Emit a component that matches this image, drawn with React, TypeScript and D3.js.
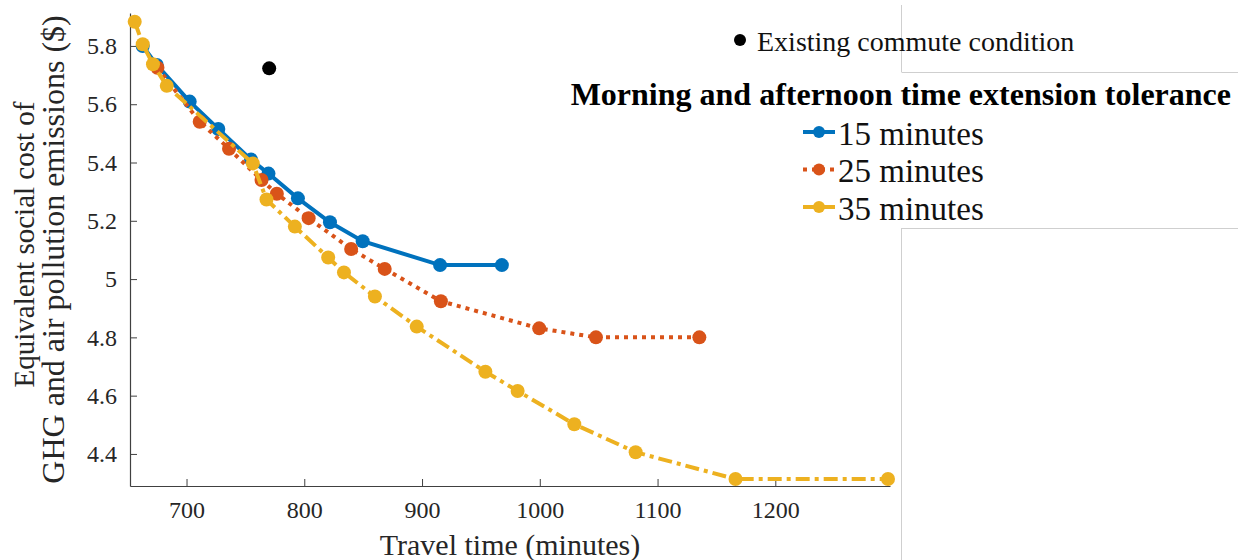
import React, { useEffect, useRef } from 'react';
import * as d3 from 'd3';

// travel time (minutes) / social cost ($)
const time15 = [662.8, 674.7, 702.7, 727, 754.8, 769.6, 794.6, 821.8, 849.6, 915.3, 967.8];
const cost15 = [5.8, 5.735, 5.609, 5.515, 5.41, 5.362, 5.277, 5.195, 5.13, 5.048, 5.048];

const time25 = [675.3, 711.2, 736.1, 763.7, 776.7, 803.7, 839.8, 868.3, 916, 999.5, 1047.7, 1135.5];
const cost25 = [5.725, 5.54, 5.447, 5.34, 5.293, 5.209, 5.103, 5.035, 4.924, 4.831, 4.8, 4.8];

const time35 = [656, 662.8, 671.5, 683.2, 756.3, 767.9, 792, 820.3, 833.7, 860, 895.5, 953.8, 981.2, 1029.3, 1081.4, 1166.2, 1295.7];
const cost35 = [5.883, 5.806, 5.737, 5.663, 5.397, 5.273, 5.18, 5.074, 5.023, 4.94, 4.837, 4.682, 4.616, 4.502, 4.406, 4.314, 4.314];

const existingTime = 770.2;
const existingCost = 5.723;

const seriesNames = ['15 minutes', '25 minutes', '35 minutes'];
const xTicks = [700, 800, 900, 1000, 1100, 1200];
const yTicks = [4.4, 4.6, 4.8, 5, 5.2, 5.4, 5.6, 5.8];

const FONT = "'Liberation Serif', 'Times New Roman', serif";

const App = () => {
    const svgRef = useRef<SVGSVGElement>(null);

    useEffect(() => {
        const svg = d3.select(svgRef.current);
        svg.selectAll('*').remove();

        const left = 130, right = 890, top = 13, bottom = 486;

        const x = d3.scaleLinear().domain([652, 1297.4]).range([left, right]);
        const y = d3.scaleLinear().domain([4.29, 5.913]).range([bottom, top]);

        const series = [
            { name: seriesNames[0], t: time15, c: cost15, color: '#0072BD', dash: null },
            { name: seriesNames[1], t: time25, c: cost25, color: '#D95319', dash: '4,5' },
            { name: seriesNames[2], t: time35, c: cost35, color: '#EDB120', dash: '14,5,4,5' },
        ];

        // stray legend box edges from the original figure
        const frame = svg.append('g').style('stroke', '#cfcfcf').style('stroke-width', 1);
        frame.append('line').attr('x1', 901.5).attr('x2', 901.5).attr('y1', 5).attr('y2', 72);
        frame.append('line').attr('x1', 901.5).attr('x2', 1238).attr('y1', 72.5).attr('y2', 72.5);
        frame.append('line').attr('x1', 901.5).attr('x2', 1238).attr('y1', 228.5).attr('y2', 228.5);
        frame.append('line').attr('x1', 901.5).attr('x2', 901.5).attr('y1', 228).attr('y2', 560);

        // axes (left + bottom, ticks inward)
        const axisColor = '#404040';
        const xAxis = svg.append('g')
            .attr('transform', `translate(0, ${bottom})`)
            .call(d3.axisBottom(x).tickValues(xTicks).tickSize(-7).tickPadding(15).tickSizeOuter(0)
                .tickFormat(d3.format('d')));
        const yAxis = svg.append('g')
            .attr('transform', `translate(${left}, 0)`)
            .call(d3.axisLeft(y).tickValues(yTicks).tickSize(-7).tickPadding(13).tickSizeOuter(0)
                .tickFormat(d => d3.format('')(+d)));

        [xAxis, yAxis].forEach(a => {
            a.attr('font-family', null).attr('font-size', null);
            a.select('.domain').style('stroke', axisColor).style('stroke-width', 1.2);
            a.selectAll('line').style('stroke', axisColor);
            a.selectAll('text')
                .style('fill', '#262626')
                .style('font-family', FONT)
                .style('font-size', '24px');
        });
        xAxis.selectAll('text').attr('dy', '0.71em');

        // axis titles
        svg.append('text')
            .attr('x', (left + right) / 2)
            .attr('y', 555)
            .attr('text-anchor', 'middle')
            .style('font-family', FONT)
            .style('font-size', '30px')
            .style('fill', '#262626')
            .text('Travel time (minutes)');

        const yTitle = svg.append('text')
            .attr('transform', `translate(0, ${(top + bottom) / 2}) rotate(-90)`)
            .attr('text-anchor', 'middle')
            .style('font-family', FONT)
            .style('fill', '#262626');
        yTitle.append('tspan').attr('x', 5).attr('y', 34).style('font-size', '29px')
            .text('Equivalent social cost of');
        yTitle.append('tspan').attr('x', 0).attr('y', 64).style('font-size', '32px')
            .text('GHG and air pollution emissions ($)');

        // lines + markers
        series.forEach(s => {
            const pts = s.t.map((t, i) => [t, s.c[i]] as [number, number]);
            const path = d3.line<[number, number]>()
                .x(d => x(d[0]))
                .y(d => y(d[1]));
            svg.append('path')
                .datum(pts)
                .attr('d', path)
                .style('fill', 'none')
                .style('stroke', s.color)
                .style('stroke-width', 4)
                .style('stroke-dasharray', s.dash);
            svg.append('g')
                .selectAll('circle')
                .data(pts)
                .enter()
                .append('circle')
                .attr('cx', d => x(d[0]))
                .attr('cy', d => y(d[1]))
                .attr('r', 7)
                .style('fill', s.color);
        });

        // existing condition
        svg.append('circle')
            .attr('cx', x(existingTime))
            .attr('cy', y(existingCost))
            .attr('r', 7)
            .style('fill', '#000');

        // legend
        const lg = svg.append('g').style('font-family', FONT);
        lg.append('circle').attr('cx', 740).attr('cy', 40).attr('r', 6).style('fill', '#000');
        lg.append('text')
            .attr('x', 757).attr('y', 41).attr('dy', '0.35em')
            .style('font-size', '28px')
            .style('fill', '#111')
            .text('Existing commute condition');

        lg.append('text')
            .attr('x', 1231).attr('y', 94).attr('dy', '0.35em')
            .attr('text-anchor', 'end')
            .style('font-size', '32px')
            .style('font-weight', 'bold')
            .style('fill', '#000')
            .text('Morning and afternoon time extension tolerance');

        series.forEach((s, i) => {
            const cy = 132 + i * 37.5;
            lg.append('line')
                .attr('x1', 803).attr('x2', 835)
                .attr('y1', cy).attr('y2', cy)
                .style('stroke', s.color)
                .style('stroke-width', 4)
                .style('stroke-dasharray', i === 1 ? '4,5' : null);
            lg.append('circle').attr('cx', 819).attr('cy', cy).attr('r', 6).style('fill', s.color);
            lg.append('text')
                .attr('x', 838).attr('y', cy + 1).attr('dy', '0.35em')
                .style('font-size', '33px')
                .style('fill', '#111')
                .text(s.name);
        });
    }, []);

    return (
        <svg
            ref={svgRef}
            width={1238}
            height={560}
            style={{ position: 'absolute', left: 0, top: 0, background: '#fff' }}
        />
    );
};

export default App;
